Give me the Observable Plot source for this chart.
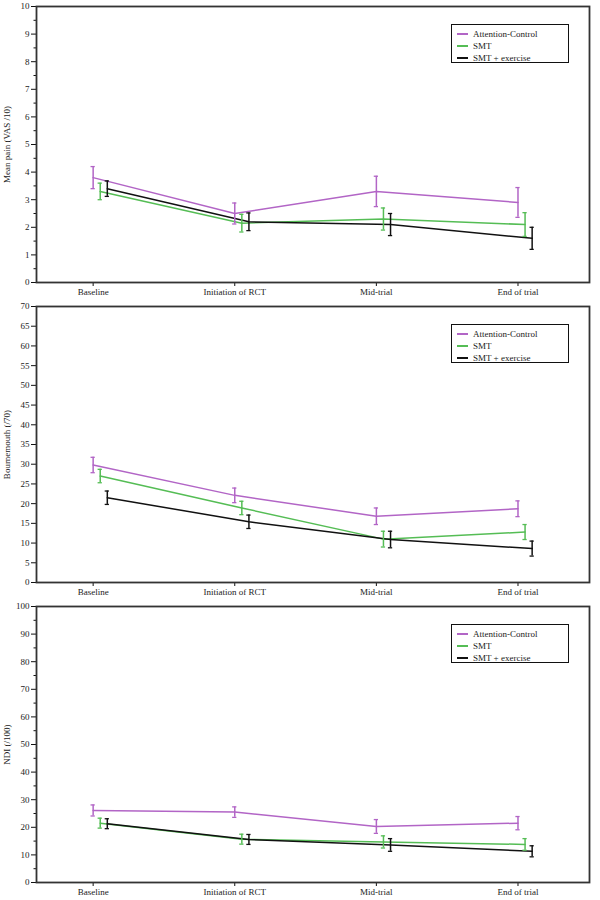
<!DOCTYPE html>
<html>
<head>
<meta charset="utf-8">
<script src="https://cdn.jsdelivr.net/npm/d3@7"></script>
<script src="https://cdn.jsdelivr.net/npm/@observablehq/plot@0.6"></script>
<style>
  body { margin: 0; background: #fff; font-family: "Liberation Serif", "Times New Roman", serif; }
  .panel { position: relative; width: 600px; height: 300px; }
  .legend { position: absolute; left: 451px; top: 24px; width: 118px; height: 39px;
    border: 1.3px solid #111; box-sizing: border-box; font-size: 9px; color: #222; padding-top: 3px;
    font-family: "Liberation Serif", "Times New Roman", serif; }
  .legend .row { display: flex; align-items: center; height: 12px; }
  .legend .sw { display: inline-block; width: 11px; height: 2px; margin-left: 5px; margin-right: 5px; }
</style>
</head>
<body>
<div id="charts"></div>
<script>
const timepoints = ["Baseline", "Initiation of RCT", "Mid-trial", "End of trial"];
const groups = ["Attention-Control", "SMT", "SMT + exercise"];
const colors = ["#b265c6", "#55bd55", "#111111"];

// Mean pain (VAS /10)
const painAC = [3.8, 2.5, 3.3, 2.9];
const painACErr = [0.4, 0.38, 0.55, 0.54];
const painSMT = [3.3, 2.15, 2.3, 2.1];
const painSMTErr = [0.3, 0.32, 0.4, 0.43];
const painEx = [3.4, 2.2, 2.1, 1.6];
const painExErr = [0.28, 0.32, 0.4, 0.4];

// Bournemouth (/70)
const bqAC = [29.8, 22.1, 16.8, 18.7];
const bqACErr = [1.95, 1.85, 2.1, 2.0];
const bqSMT = [27.0, 18.9, 11.0, 12.8];
const bqSMTErr = [1.7, 1.7, 2.0, 1.9];
const bqEx = [21.5, 15.4, 10.9, 8.6];
const bqExErr = [1.7, 1.7, 2.1, 1.9];

// NDI (/100)
const ndiAC = [26.1, 25.5, 20.3, 21.5];
const ndiACErr = [2.0, 1.9, 2.5, 2.4];
const ndiSMT = [21.5, 15.7, 14.7, 13.8];
const ndiSMTErr = [1.8, 1.8, 2.2, 2.1];
const ndiEx = [21.3, 15.6, 13.6, 11.3];
const ndiExErr = [1.8, 1.8, 2.3, 2.0];

const dodge = [0, 0.05, 0.1];
const cap = 0.015;
const serif = '"Liberation Serif", "Times New Roman", serif';

function build(means, errs) {
  const rows = [];
  means.forEach((m, g) => m.forEach((v, i) => rows.push({
    group: groups[g], x: i + dodge[g], y: v, lo: v - errs[g][i], hi: v + errs[g][i]
  })));
  return rows;
}

const panels = [
  {label: "Mean pain (VAS /10)", max: 10, major: d3.range(0, 11, 1), minor: d3.range(0.5, 10, 1),
   data: build([painAC, painSMT, painEx], [painACErr, painSMTErr, painExErr])},
  {label: "Bournemouth (/70)", max: 70, major: d3.range(0, 71, 5), minor: [],
   data: build([bqAC, bqSMT, bqEx], [bqACErr, bqSMTErr, bqExErr])},
  {label: "NDI (/100)", max: 100, major: d3.range(0, 101, 10), minor: d3.range(5, 100, 10),
   data: build([ndiAC, ndiSMT, ndiEx], [ndiACErr, ndiSMTErr, ndiExErr])}
];

const root = document.getElementById("charts");
for (const p of panels) {
  const div = document.createElement("div");
  div.className = "panel";
  const chart = Plot.plot({
    width: 600, height: 300,
    marginLeft: 36, marginRight: 11, marginTop: 6, marginBottom: 18,
    style: {fontFamily: serif, fontSize: "9px", color: "#222", background: "#fff"},
    x: {domain: [-0.4, 3.505]},
    y: {domain: [0, p.max]},
    color: {domain: groups, range: colors},
    marks: [
      Plot.line(p.data, {x: "x", y: "y", z: "group", stroke: "group", strokeWidth: 1.5}),
      Plot.ruleX(p.data, {x: "x", y1: "lo", y2: "hi", stroke: "group", strokeWidth: 1.5}),
      Plot.ruleY(p.data, {y: "lo", x1: d => d.x - cap, x2: d => d.x + cap, stroke: "group", strokeWidth: 1.3}),
      Plot.ruleY(p.data, {y: "hi", x1: d => d.x - cap, x2: d => d.x + cap, stroke: "group", strokeWidth: 1.3}),
      Plot.axisY({ticks: p.major, tickSize: 5, tickPadding: 2, tickFormat: d3.format("d"),
        label: p.label, labelAnchor: "center", labelArrow: "none", labelOffset: 33, stroke: "#111",
        fontFamily: serif}),
      Plot.axisY({ticks: p.minor, tickSize: 2.5, tickFormat: null, text: null, label: null, stroke: "#111"}),
      Plot.axisX({ticks: [0, 1, 2, 3], tickSize: 4, tickPadding: 2, tickFormat: i => timepoints[i],
        label: null, stroke: "#111", fontFamily: serif}),
      Plot.frame({stroke: "#333", strokeWidth: 1.8})
    ]
  });
  div.appendChild(chart);
  const leg = document.createElement("div");
  leg.className = "legend";
  groups.forEach((g, i) => {
    const r = document.createElement("div");
    r.className = "row";
    r.innerHTML = `<span class="sw" style="background:${colors[i]}"></span><span>${g}</span>`;
    leg.appendChild(r);
  });
  div.appendChild(leg);
  root.appendChild(div);
}
</script>
</body>
</html>
